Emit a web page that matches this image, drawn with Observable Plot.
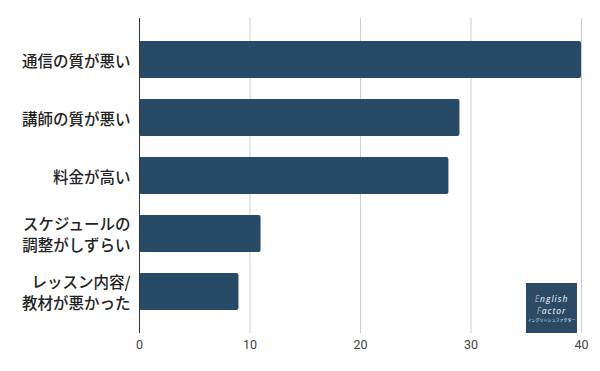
<!DOCTYPE html>
<html><head><meta charset="utf-8">
<script src="https://cdn.jsdelivr.net/npm/d3@7"></script>
<script src="https://cdn.jsdelivr.net/npm/@observablehq/plot@0.6"></script>
<style>
body{margin:0;background:#fff;}
#wrap{position:relative;width:600px;height:371px;}
#logo{position:absolute;left:526px;top:283px;width:51px;height:50px;background:#2a4a66;color:#fff;font-family:"Open Sans",sans-serif;font-style:italic;box-sizing:border-box;padding-top:10px;text-align:center;}
#logo .l{font-size:8.5px;line-height:12px;letter-spacing:1px;height:12px;}
#logo .e{color:#b9a9a9;}
#logo .s{font-size:4px;font-style:normal;line-height:5px;margin-top:1px;font-family:"Noto Sans CJK JP";white-space:nowrap;}
</style>
</head><body><div id="wrap"></div>
<script>
const categories = ["通信の質が悪い","講師の質が悪い","料金が高い","スケジュールの\n調整がしずらい","レッスン内容/\n教材が悪かった"];
const values = [40, 29, 28, 11, 9];
const xTicks = [0, 10, 20, 30, 40];
const data = categories.map((c, i) => ({category: c, value: values[i]}));

const chart = Plot.plot({
  width: 600, height: 371,
  marginLeft: 139, marginRight: 19, marginTop: 18, marginBottom: 38,
  style: {fontFamily: "'Noto Sans CJK JP', sans-serif", background: "#fff"},
  x: {domain: [0, 40], ticks: xTicks, grid: false, label: null},
  y: {domain: categories, padding: 0.36, label: null},
  marks: [
    Plot.gridX(xTicks.filter(d => d > 0), {stroke: "#ccc", strokeOpacity: 1, strokeWidth: 1}),
    Plot.barX(data, {y: "category", x: "value", fill: "#274a66", rx: 2}),
    Plot.ruleX([0], {stroke: "#333", strokeWidth: 1}),
    Plot.axisX({ticks: xTicks, tickSize: 0, tickPadding: 7, fontSize: 12.5, fill: "#444", label: null, fontFamily: "Roboto, sans-serif"}),
    Plot.axisY({tickSize: 0, tickPadding: 9, fontSize: 15.5, fill: "#222", fontWeight: 500, lineHeight: 1.35, label: null})
  ]
});
document.getElementById("wrap").appendChild(chart);
const logo = document.createElement("div");
logo.id = "logo";
logo.innerHTML = '<div class="l"><span class="e">E</span>nglish</div><div class="l"><span class="e">F</span>actor</div><div class="s">イングリッシュファクター</div>';
document.getElementById("wrap").appendChild(logo);
</script>
</body></html>
